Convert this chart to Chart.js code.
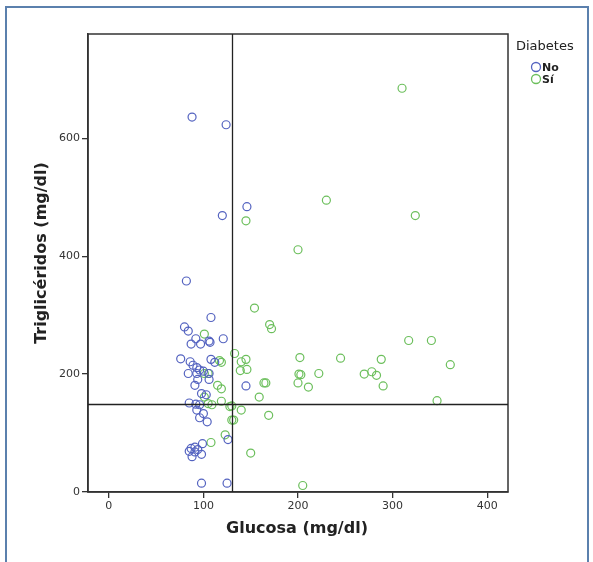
<!DOCTYPE html>
<html>
<head>
<meta charset="utf-8">
<script src="https://cdn.jsdelivr.net/npm/chart.js@4.4.1/dist/chart.umd.min.js"></script>
<style>
  html, body { margin: 0; padding: 0; background: #fff; }
  #wrap { width: 593px; height: 562px; }
</style>
</head>
<body>
<div id="wrap"><canvas id="chart" width="593" height="562"></canvas></div>
<script>
// glucosa, triglicéridos
const noDiabetes = [
  [88, 636], [124, 623], [146, 484], [120, 469], [82, 358],
  [108, 296], [80, 280], [84, 273], [92, 260], [121, 260], [87, 251], [97, 251], [106, 256], [107, 254],
  [76, 226], [86, 221], [89, 215], [93, 211], [96, 207], [108, 225], [112, 220],
  [84, 201], [93, 201], [100, 205], [106, 201],
  [94, 191], [106, 191], [91, 181], [145, 180], [98, 167], [103, 165],
  [85, 151], [92, 149], [96, 148], [93, 139], [100, 133], [96, 126], [104, 119],
  [126, 89], [99, 82], [87, 74], [91, 76], [85, 69], [94, 72], [88, 60], [98, 64], [91, 68],
  [98, 15], [125, 15]
];
const siDiabetes = [
  [310, 685], [230, 495], [324, 469], [145, 460], [200, 411],
  [154, 312], [170, 284], [172, 277], [101, 268], [317, 257], [341, 257],
  [133, 235], [145, 225], [140, 221], [117, 223], [119, 220], [202, 228], [245, 227], [288, 225], [361, 216],
  [146, 208], [139, 206], [101, 201], [105, 201], [201, 200], [203, 199], [222, 201], [270, 200], [278, 204], [283, 198],
  [164, 185], [166, 185], [200, 185], [211, 178], [290, 180], [115, 181], [119, 175],
  [159, 161], [101, 161], [347, 155], [119, 154], [105, 150], [109, 148], [128, 145], [130, 146],
  [140, 139], [169, 130], [130, 122], [132, 122], [123, 97], [108, 84], [150, 66], [205, 11]
];
const seriesNames = ["No", "Sí"];
const xTicks = [0, 100, 200, 300, 400];
const yTicks = [0, 200, 400, 600];
const refGlucosa = 130;
const refTrig = 150;

const BLUE = "#5463c0";
const GREEN = "#6cbf5c";
const FONT = "'DejaVu Sans', sans-serif";

const toPts = arr => arr.map(p => ({ x: p[0], y: p[1] }));

// frame, reference lines, titles, legend
const extras = {
  id: "extras",
  afterDraw(chart) {
    const ctx = chart.ctx;
    const a = chart.chartArea;
    const xs = chart.scales.x, ys = chart.scales.y;
    ctx.save();
    // outer border of the figure
    ctx.strokeStyle = "#5b80ad";
    ctx.lineWidth = 2;
    ctx.strokeRect(6, 7, 582, 600);
    // plot frame
    ctx.strokeStyle = "#333";
    ctx.lineWidth = 1.5;
    ctx.strokeRect(a.left, a.top, a.right - a.left, a.bottom - a.top);
    // reference lines
    ctx.lineWidth = 1.3;
    ctx.strokeStyle = "#222";
    const rx = Math.round(xs.getPixelForValue(refGlucosa)) + 0.5;
    const ry = Math.round(ys.getPixelForValue(refTrig)) + 0.5;
    ctx.beginPath();
    ctx.moveTo(rx, a.top); ctx.lineTo(rx, a.bottom);
    ctx.moveTo(a.left, ry); ctx.lineTo(a.right, ry);
    ctx.stroke();
    // axis titles
    ctx.fillStyle = "#222";
    ctx.font = "bold 16px " + FONT;
    ctx.textAlign = "center";
    ctx.textBaseline = "middle";
    ctx.fillText("Glucosa (mg/dl)", 297, 529);
    ctx.translate(42, 253);
    ctx.rotate(-Math.PI / 2);
    ctx.fillText("Triglicéridos (mg/dl)", 0, 0);
    ctx.setTransform(1, 0, 0, 1, 0, 0);
    // legend
    ctx.textAlign = "left";
    ctx.font = "13px " + FONT;
    ctx.fillText("Diabetes", 516, 47);
    const colors = [BLUE, GREEN];
    ctx.font = "bold 11px " + FONT;
    seriesNames.forEach((name, i) => {
      const cy = 67 + i * 12;
      ctx.strokeStyle = colors[i];
      ctx.lineWidth = 1.3;
      ctx.beginPath();
      ctx.arc(536, cy, 4.5, 0, Math.PI * 2);
      ctx.stroke();
      ctx.fillStyle = "#222";
      ctx.fillText(name, 542, cy + 1);
    });
    ctx.restore();
  }
};

new Chart(document.getElementById("chart"), {
  type: "scatter",
  data: {
    datasets: [
      {
        label: seriesNames[0],
        data: toPts(noDiabetes),
        borderColor: BLUE,
        backgroundColor: "rgba(0,0,0,0)",
        pointRadius: 4,
        pointBorderWidth: 1.2
      },
      {
        label: seriesNames[1],
        data: toPts(siDiabetes),
        borderColor: GREEN,
        backgroundColor: "rgba(0,0,0,0)",
        pointRadius: 4,
        pointBorderWidth: 1.2
      }
    ]
  },
  options: {
    responsive: false,
    animation: false,
    layout: { padding: { left: 0, top: 34, right: 85, bottom: 0 } },
    plugins: {
      legend: { display: false },
      tooltip: { enabled: false }
    },
    scales: {
      x: {
        type: "linear",
        min: -22,
        max: 422,
        afterFit: s => { s.height = 70; },
        afterBuildTicks: s => { s.ticks = xTicks.map(v => ({ value: v })); },
        grid: { drawOnChartArea: false, drawTicks: true, tickLength: 6, color: "#333", lineWidth: 1.3 },
        border: { display: true, color: "#333", width: 1.5 },
        ticks: { color: "#333", font: { family: FONT, size: 11 }, padding: 2, maxRotation: 0 }
      },
      y: {
        type: "linear",
        min: 0,
        max: 777,
        afterFit: s => { s.width = 88; },
        afterBuildTicks: s => { s.ticks = yTicks.map(v => ({ value: v })); },
        grid: { drawOnChartArea: false, drawTicks: true, tickLength: 6, color: "#333", lineWidth: 1.3 },
        border: { display: true, color: "#333", width: 1.5 },
        ticks: { color: "#333", font: { family: FONT, size: 11 }, padding: 2 }
      }
    }
  },
  plugins: [extras]
});
</script>
</body>
</html>
